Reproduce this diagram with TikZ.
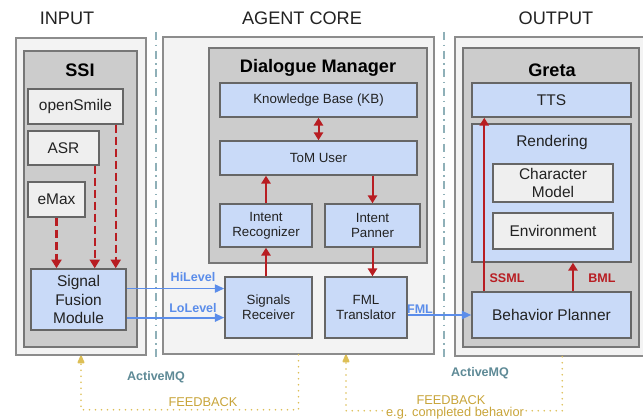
\documentclass[tikz,border=0pt]{standalone}
\usepackage{fontspec}
\setmainfont{Liberation Sans}
\usetikzlibrary{arrows.meta}
\definecolor{outerfill}{HTML}{F3F3F3}
\definecolor{outerdraw}{HTML}{8C8C8C}
\definecolor{contfill}{HTML}{CCCCCC}
\definecolor{contdraw}{HTML}{777777}
\definecolor{boxblue}{HTML}{C9DAF8}
\definecolor{boxgrey}{HTML}{EFEFEF}
\definecolor{boxdraw}{HTML}{666666}
\definecolor{arrred}{HTML}{B81D22}
\definecolor{arrblue}{HTML}{5B8DEA}
\definecolor{fbline}{HTML}{DDBF55}
\definecolor{fbtext}{HTML}{C9A53A}
\definecolor{mqtext}{HTML}{5E8A96}
\definecolor{mqline}{HTML}{8FB0B8}
\definecolor{txt}{HTML}{222222}
% \mybox{name}{style}{x1}{y1}{x2}{y2}{text}
\newcommand{\mybox}[7]{%
  \pgfmathsetmacro{\bxcx}{(#3+#5)/2}\pgfmathsetmacro{\bxcy}{(#4+#6)/2}%
  \pgfmathsetmacro{\bxw}{(#5-#3)*0.75}\pgfmathsetmacro{\bxh}{(#6-#4)*0.75}%
  \node[#2, minimum width=\bxw pt, minimum height=\bxh pt] (#1) at (\bxcx,\bxcy) {#7};}
\begin{document}
\begin{tikzpicture}[x=0.75pt,y=-0.75pt,
  outerbox/.style={draw=outerdraw, fill=outerfill, line width=1.1pt, inner sep=0pt},
  contbox/.style={draw=contdraw, fill=contfill, line width=1.1pt, inner sep=0pt},
  bluebox/.style={draw=boxdraw, fill=boxblue, line width=1.1pt, inner sep=0pt, align=center, text=txt},
  greybox/.style={draw=boxdraw, fill=boxgrey, line width=1.1pt, inner sep=0pt, align=center, text=txt},
  smalltext/.style={font=\fontsize{10}{11.3}\selectfont},
  largetext/.style={font=\fontsize{11.6}{14}\selectfont},
  heading/.style={font=\fontsize{13.6}{16}\selectfont, text=txt, inner sep=0pt},
  boldhead/.style={font=\bfseries\fontsize{13.6}{16}\selectfont, text=black, inner sep=0pt},
  plainhead/.style={font=\fontsize{11.6}{14}\selectfont, text=txt, inner sep=0pt},
  redarrow/.style={draw=arrred, line width=1.5pt, -{Triangle[length=6pt,width=7pt]}},
  reddash/.style={draw=arrred, line width=1.6pt, dash pattern=on 6pt off 3pt, -{Triangle[length=6.5pt,width=7.5pt]}},
  bluearrow/.style={draw=arrblue, line width=1.4pt, -{Triangle[length=7pt,width=6pt]}},
  fbarrow/.style={draw=fbline, line width=1.4pt, dash pattern=on 0pt off 4.5pt, line cap=round, -{Triangle[length=7pt,width=5.5pt,round]}},
  mqdivider/.style={draw=mqline, line width=1.1pt, dash pattern=on 6pt off 3.5pt on 1pt off 3.5pt},
  redlabel/.style={font=\bfseries\fontsize{9.4}{11}\selectfont, text=arrred, inner sep=0pt},
  bluelabel/.style={font=\bfseries\fontsize{9.4}{11}\selectfont, text=arrblue, inner sep=0pt},
  mqlabel/.style={font=\bfseries\fontsize{9.4}{11}\selectfont, text=mqtext, inner sep=0pt},
  fblabel/.style={font=\fontsize{9.6}{11}\selectfont, text=fbtext, inner sep=0pt},
]
\useasboundingbox[fill=white] (0,0) rectangle (643,420);

% column titles
\node[heading] (tin) at (67,18) {INPUT};
\node[heading] (tcore) at (302,18) {AGENT CORE};
\node[heading] (tout) at (556,18) {OUTPUT};

% ActiveMQ dividers
\draw[mqdivider] (156,32) -- (156,362);
\draw[mqdivider] (444,32) -- (444,362);
\node[mqlabel] (mq1) at (156,377) {ActiveMQ};
\node[mqlabel] (mq2) at (480,373) {ActiveMQ};

% outer boxes
\mybox{inp}{outerbox}{16}{38}{146}{355}{}
\mybox{core}{outerbox}{163}{37}{434}{354}{}
\mybox{out}{outerbox}{455}{37}{660}{356}{}

% containers
\mybox{ssi}{contbox}{24}{51}{137}{347}{}
\node[boldhead] (ssititle) at (80,70) {SSI};
\mybox{dm}{contbox}{209}{48}{427}{263}{}
\node[boldhead] (dmtitle) at (318,68) {Dialogue Manager};
\mybox{greta}{contbox}{463}{48}{639}{347}{}
\node[boldhead] (gretatitle) at (552,70) {Greta};

% INPUT boxes
\mybox{os}{greybox, largetext}{28}{89}{123}{124}{openSmile}
\mybox{asr}{greybox, largetext}{28}{131}{99}{165}{ASR}
\mybox{emax}{greybox, largetext}{28}{182}{85}{217}{eMax}
\mybox{sfm}{bluebox, largetext}{31}{269}{126}{330}{Signal\\Fusion\\Module}

% AGENT CORE boxes
\mybox{kb}{bluebox, smalltext}{220}{83}{417}{117}{Knowledge Base (KB)}
\mybox{tom}{bluebox, smalltext}{220}{141}{417}{175}{ToM User}
\mybox{ir}{bluebox, smalltext}{220}{204}{312}{247}{Intent\\Recognizer}
\mybox{ip}{bluebox, smalltext}{325}{204}{420}{247}{Intent\\Panner}
\mybox{sr}{bluebox, smalltext}{225}{277}{312}{338}{Signals\\Receiver}
\mybox{fml}{bluebox, smalltext}{325}{277}{407}{338}{FML\\Translator}

% OUTPUT boxes
\mybox{tts}{bluebox, largetext}{472}{83}{631}{117}{TTS}
\mybox{rend}{bluebox}{472}{124}{631}{262}{}
\node[plainhead] (rendtitle) at (552,143) {Rendering};
\mybox{cm}{greybox, largetext}{493}{164}{613}{202}{Character\\Model}
\mybox{env}{greybox, largetext}{493}{213}{613}{249}{Environment}
\mybox{bp}{bluebox, largetext}{472}{292}{631}{338}{Behavior Planner}

% dashed arrows into fusion
\draw[reddash] ([xshift=-6pt]os.south east) -- ([xshift=-6pt]os.south east |- sfm.north);
\draw[reddash] ([xshift=-3.75pt]asr.south east) -- ([xshift=-3.75pt]asr.south east |- sfm.north);
\draw[reddash] (emax.south) -- (emax.south |- sfm.north);

% Hi / Lo level
\draw[bluearrow] ([yshift=8.2pt]sfm.east) -- ([yshift=8.2pt]sfm.east -| sr.west);
\draw[bluearrow] ([yshift=-13.6pt]sfm.east) -- ([yshift=-13.6pt]sfm.east -| sr.west);
\node[bluelabel] (hil) at (193,277) {HiLevel};
\node[bluelabel] (lol) at (193,308) {LoLevel};

% dialogue manager arrows
\draw[redarrow, {Triangle[length=6pt,width=7pt]}-{Triangle[length=6pt,width=7pt]}] (kb.south) -- (tom.north);
\draw[redarrow] (ir.south |- sr.north) -- (ir.south);
\draw[redarrow] (ir.north) -- (ir.north |- tom.south);
\draw[redarrow] (ip.north |- tom.south) -- (ip.north);
\draw[redarrow] (ip.south) -- (ip.south |- fml.north);

% FML
\draw[bluearrow] (fml.east |- bp.west) -- (bp.west);
\node[bluelabel] (fmll) at (420,309) {FML};

% Greta arrows
\draw[redarrow] ([xshift=9.75pt]bp.north west) -- ([xshift=9.75pt]bp.north west |- tts.south);
\draw[redarrow] ([xshift=16.1pt]bp.north) -- ([xshift=16.1pt]bp.north |- rend.south);
\node[redlabel] (ssml) at (507,278) {SSML};
\node[redlabel] (bml) at (602,278) {BML};

% feedback
\draw[fbarrow] (core.south) -- ++(0,55) -| (inp.south);
\draw[fbarrow] ([xshift=81pt]out.south west) -- ++(0,54) -| ([xshift=35.6pt]core.south);
\node[fblabel] (fb1) at (203,402) {FEEDBACK};
\node[fblabel] (fb2) at (451,400) {FEEDBACK};
\node[fblabel, fill=white, inner sep=1pt] (fb3) at (455,413) {e.g. completed behavior};
\end{tikzpicture}
\end{document}
